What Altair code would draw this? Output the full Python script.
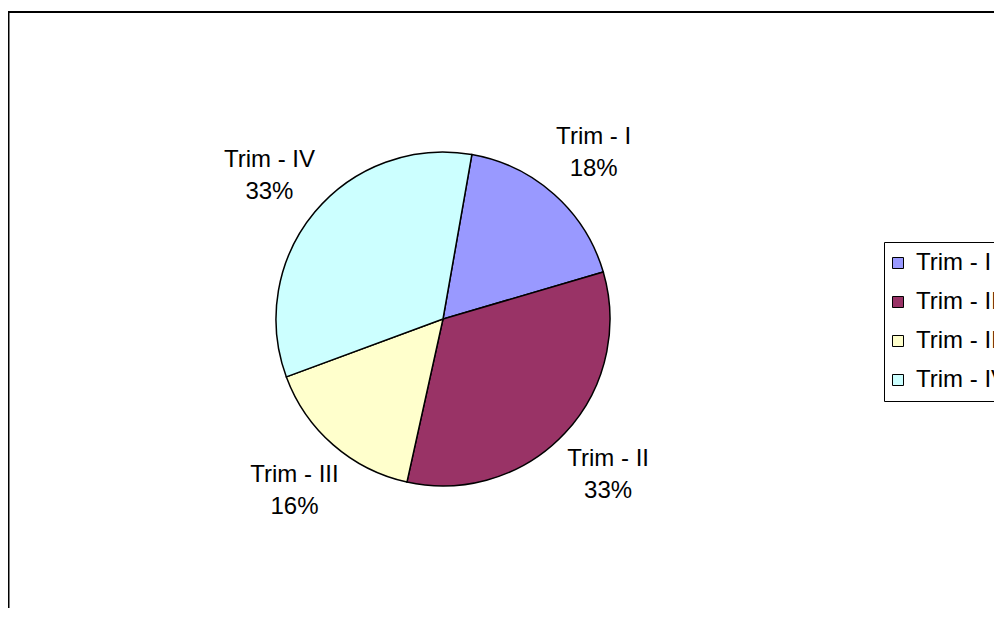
import math
import altair as alt
import pandas as pd

categories = ["Trim - I", "Trim - II", "Trim - III", "Trim - IV"]
values = [17.7, 33.0, 15.9, 33.4]
pct_labels = ["18%", "33%", "16%", "33%"]
colors = ["#9999FF", "#993366", "#FFFFCC", "#CCFFFF"]

df = pd.DataFrame({
    "cat": categories,
    "val": values,
    "idx": list(range(len(categories))),
    "label": [c + "\n" + p for c, p in zip(categories, pct_labels)],
})

FONT = "Liberation Sans"
start = math.radians(9.95)
theta_scale = alt.Scale(range=[start, start + 2 * math.pi])
cx, cy = 435, 311

base = alt.Chart(df).encode(
    theta=alt.Theta("val:Q", stack=True, scale=theta_scale),
    order=alt.Order("idx:Q"),
)

pie = base.mark_arc(stroke="black", strokeWidth=1.5, outerRadius=167).encode(
    x=alt.value(cx),
    y=alt.value(cy),
    color=alt.Color(
        "cat:N",
        scale=alt.Scale(domain=categories, range=colors),
        sort=categories,
        legend=alt.Legend(
            title=None,
            orient="none",
            legendX=876,
            legendY=234,
            symbolType="square",
            symbolSize=121,
            symbolStrokeColor="black",
            symbolStrokeWidth=1,
            symbolOffset=-7,
            labelFontSize=24,
            labelFont=FONT,
            labelColor="black",
            labelOffset=6,
            rowPadding=15,
            padding=9,
            strokeColor="black",
            fillColor="white",
        ),
    ),
)

text = base.mark_text(
    radius=226, fontSize=24, font=FONT, lineBreak="\n", lineHeight=32,
    align="center", baseline="middle", color="black", dy=-14,
).encode(
    x=alt.value(cx),
    y=alt.value(cy),
    text="label:N",
)

one = pd.DataFrame({"a": [0]})
left_line = alt.Chart(one).mark_rule(color="black", strokeWidth=2).encode(
    x=alt.value(0.5), y=alt.value(3), y2=alt.value(640)
)
top_line = alt.Chart(one).mark_rule(color="black", strokeWidth=2).encode(
    x=alt.value(0), x2=alt.value(1010), y=alt.value(4)
)

chart = alt.layer(left_line, top_line, pie, text).properties(
    width=986,
    height=600,
    autosize=alt.AutoSizeParams(type="none"),
    padding=0,
).configure_view(stroke=None)

chart.save("out.html", embed_options={"renderer": "svg", "actions": False})
